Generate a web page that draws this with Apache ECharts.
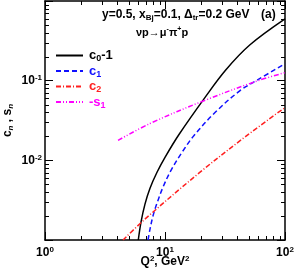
<!DOCTYPE html>
<html><head><meta charset="utf-8">
<script src="https://cdn.jsdelivr.net/npm/echarts@6/dist/echarts.min.js"></script>
<style>html,body{margin:0;padding:0;background:#fff}#c{width:296px;height:270px}</style>
</head><body><div id="c"></div>
<script>
// ---- data ----
const xRange = [1, 100];
const yRange = [0.001, 1];
const xMinorTicks = [2,3,4,5,6,7,8,9,20,30,40,50,60,70,80,90];
const yMinorTicks = [0.002,0.003,0.004,0.005,0.006,0.007,0.008,0.009,0.02,0.03,0.04,0.05,0.06,0.07,0.08,0.09,0.2,0.3,0.4,0.5,0.6,0.7,0.8,0.9];
const seriesNames = ['c0-1', 'c1', 'c2', '-s1'];
const c0Q = [5.99, 6.31, 6.81, 7.50, 8.58, 10.0, 13.08, 21.5, 32.2, 51.1, 100];
const c0V = [0.001, 0.00168, 0.00282, 0.00447, 0.00708, 0.0109, 0.0211, 0.0613, 0.137, 0.282, 0.596];
const c1Q = [7.22, 7.50, 7.94, 8.58, 9.62, 11.22, 13.86, 17.45, 26.1, 42.2, 59.6, 100];
const c1V = [0.001, 0.00137, 0.002, 0.0029, 0.0046, 0.0075, 0.0126, 0.0205, 0.0398, 0.075, 0.103, 0.163];
const c2Q = [4.47, 6.95, 19.6, 47.1, 100];
const c2V = [0.001, 0.00188, 0.0071, 0.02, 0.046];
const s1Q = [4.06, 7.5, 21.1, 59.6, 100];
const s1V = [0.0178, 0.029, 0.056, 0.1, 0.126];

const FF = '"Liberation Sans", Arial, sans-serif';
const zip = (a, b) => a.map((v, i) => [v, b[i]]);
const colors = ['#000000', '#1010ff', '#ff2020', '#ff00ff'];
const dashes = ['solid', [5, 3], [5, 2, 1, 2], [5, 2, 1, 2, 1, 2]];
const dataSets = [zip(c0Q, c0V), zip(c1Q, c1V), zip(c2Q, c2V), zip(s1Q, s1V)];

function rs(color, size, extra) {
  return Object.assign({ color: color, fontSize: size, fontWeight: 'bold', fontFamily: FF }, extra || {});
}
const legendRich = {};
['k', 'b', 'r', 'm'].forEach((key, i) => {
  legendRich[key] = rs(colors[i], 13, { lineHeight: 16 });
  legendRich[key + 's'] = rs(colors[i], 9, { lineHeight: 10, verticalAlign: 'bottom' });
});
const tickRich = {
  b: rs('#000', 12, { lineHeight: 14 }),
  s: rs('#000', 8, { lineHeight: 8, verticalAlign: 'top' })
};
function expLabel(v) {
  const e = Math.round(Math.log10(v));
  return '{b|10}{s|' + e + '}';
}

const axisLine = { show: true, onZero: false, lineStyle: { color: '#000', width: 1.5 } };
const tickCommon = { show: true, inside: true, length: 8, lineStyle: { color: '#000', width: 1 } };

const option = {
  animation: false,
  backgroundColor: '#fff',
  grid: { left: 45, right: 11, top: 1, bottom: 30, outerBoundsMode: 'none', containLabel: false },
  legend: {
    orient: 'vertical', left: 55, top: 49, itemWidth: 27, itemHeight: 14, itemGap: 1,
    padding: 0, selectedMode: false,
    data: seriesNames,
    itemStyle: { opacity: 0 },
    formatter: function (n) {
      if (n === 'c0-1') return '{k|c}{ks|0}{k|-1}';
      if (n === 'c1') return '{b|c}{bs|1}';
      if (n === 'c2') return '{r|c}{rs|2}';
      return '{m|-s}{ms|1}';
    },
    textStyle: { rich: legendRich, padding: [0, 0, 0, 1] }
  },
  xAxis: [
    { type: 'log', logBase: 10, min: xRange[0], max: xRange[1], position: 'bottom',
      axisLine: axisLine, axisTick: tickCommon, splitLine: { show: false },
      axisLabel: { margin: 6, formatter: expLabel, rich: tickRich },
      name: '{b|Q}{s|2}{b|, GeV}{s|2}', nameLocation: 'middle', nameGap: 15, nameMoveOverlap: false,
      nameTextStyle: { rich: tickRich } },
    { type: 'log', logBase: 10, min: xRange[0], max: xRange[1], position: 'top',
      axisLine: axisLine, axisTick: tickCommon, splitLine: { show: false }, axisLabel: { show: false } }
  ],
  yAxis: [
    { type: 'log', logBase: 10, min: yRange[0], max: yRange[1], position: 'left',
      axisLine: axisLine, axisTick: tickCommon, splitLine: { show: false },
      axisLabel: { margin: 3, formatter: function (v) {
        const e = Math.round(Math.log10(v));
        return (e === -3 || e === 0) ? '' : '{b|10}{s|' + e + '}';
      }, rich: tickRich },
      name: '{b|c}{i|n}{b| , s}{i|n}', nameLocation: 'middle', nameGap: 30, nameRotate: 90, nameMoveOverlap: false,
      nameTextStyle: { rich: {
        b: rs('#000', 12, { lineHeight: 15 }),
        i: rs('#000', 8, { lineHeight: 9, verticalAlign: 'bottom', fontStyle: 'italic' })
      } } },
    { type: 'log', logBase: 10, min: yRange[0], max: yRange[1], position: 'right',
      axisLine: axisLine, axisTick: tickCommon, splitLine: { show: false }, axisLabel: { show: false } }
  ],
  series: seriesNames.map((n, i) => ({
    name: n, type: 'line', xAxisIndex: 0, yAxisIndex: 0, data: dataSets[i],
    symbol: 'none', smooth: 0.35, clip: true, z: 3,
    lineStyle: { color: colors[i], width: 1.5, type: dashes[i] },
    itemStyle: { color: colors[i] }
  }))
};

const chart = echarts.init(document.getElementById('c'), null, { renderer: 'canvas' });
chart.setOption(option);

// minor ticks (log positions) through the axes' own scales
const xL = chart.convertToPixel({ xAxisIndex: 0 }, xRange[0]);
const xR = chart.convertToPixel({ xAxisIndex: 0 }, xRange[1]);
const yB = chart.convertToPixel({ yAxisIndex: 0 }, yRange[0]);
const yT = chart.convertToPixel({ yAxisIndex: 0 }, yRange[1]);
const ml = 4;
const gr = [];
const ls = { stroke: '#000', lineWidth: 1 };
xMinorTicks.forEach(v => {
  const x = Math.round(chart.convertToPixel({ xAxisIndex: 0 }, v)) + 0.5;
  gr.push({ type: 'line', shape: { x1: x, y1: yB, x2: x, y2: yB - ml }, style: ls, silent: true });
  gr.push({ type: 'line', shape: { x1: x, y1: yT, x2: x, y2: yT + ml }, style: ls, silent: true });
});
yMinorTicks.forEach(v => {
  const y = Math.round(chart.convertToPixel({ yAxisIndex: 0 }, v)) + 0.5;
  gr.push({ type: 'line', shape: { x1: xL, y1: y, x2: xL + ml, y2: y }, style: ls, silent: true });
  gr.push({ type: 'line', shape: { x1: xR, y1: y, x2: xR - ml, y2: y }, style: ls, silent: true });
});
const annRich = {
  t: rs('#000', 12, { lineHeight: 14 }),
  sub: rs('#000', 8, { lineHeight: 8, verticalAlign: 'bottom' }),
  sup: rs('#000', 8, { lineHeight: 8, verticalAlign: 'top' }),
  t2: rs('#000', 11, { lineHeight: 13 }),
  sup2: rs('#000', 7, { lineHeight: 7, verticalAlign: 'top' })
};
gr.push({ type: 'text', left: 102, top: 9, style: { text: '{t|y=0.5, x}{sub|Bj}{t|=0.1, Δ}{sub|tr}{t|=0.2 GeV}', rich: annRich } });
gr.push({ type: 'text', left: 261, top: 9, style: { text: '{t|(a)}', rich: annRich } });
gr.push({ type: 'text', left: 136, top: 26, style: { text: '{t2|νp→μ}{sup2|-}{t2|π}{sup2|+}{t2|p}', rich: annRich } });
chart.setOption({ graphic: gr });
</script></body></html>
